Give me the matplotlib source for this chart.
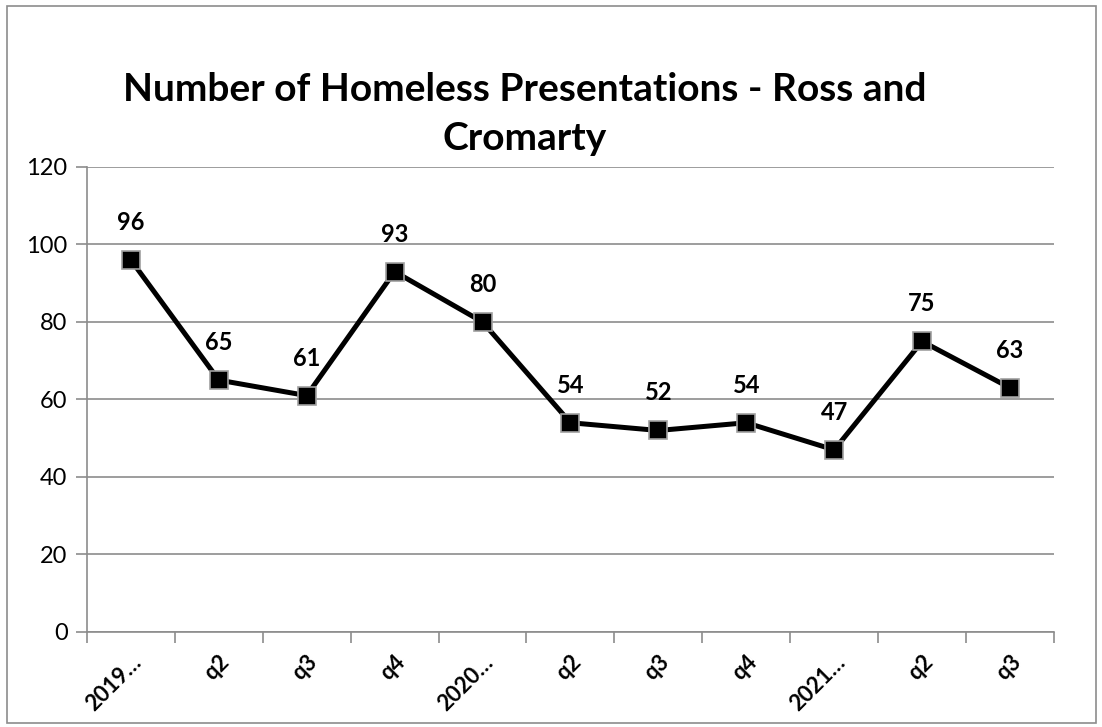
import matplotlib.pyplot as plt
from matplotlib.patches import Rectangle

categories = ["2019…", "q2", "q3", "q4", "2020…", "q2", "q3", "q4", "2021…", "q2", "q3"]
presentations = [96, 65, 61, 93, 80, 54, 52, 54, 47, 75, 63]
y_ticks = [0, 20, 40, 60, 80, 100, 120]

plt.rcParams["font.family"] = ["Lato", "DejaVu Sans"]

fig = plt.figure(figsize=(11.02, 7.27), dpi=100)
fig.patches.append(Rectangle((0.006, 0.006), 0.989, 0.986, transform=fig.transFigure,
                             fill=False, edgecolor="#8c8c8c", linewidth=1.2))
ax = fig.add_axes([0.0789, 0.1307, 0.8775, 0.6396])

x = list(range(len(categories)))
ax.plot(x, presentations, color="black", linewidth=3.6, marker="s", markersize=13,
        markerfacecolor="black", markeredgecolor="#a0a0a0", markeredgewidth=1.2, zorder=3)

for xi, v in zip(x, presentations):
    ax.annotate(str(v), (xi, v), xytext=(0, 27), textcoords="offset points",
                ha="center", va="center", fontsize=17, fontweight="bold")

ax.set_xlim(-0.5, len(categories) - 0.5)
ax.set_ylim(0, 120)
ax.set_yticks(y_ticks)
ax.set_yticklabels([str(t) for t in y_ticks], fontsize=17)
ax.grid(axis="y", color="#8c8c8c", linewidth=1.2)
ax.set_axisbelow(True)

ax.set_xticks(x)
ax.set_xticklabels(categories, rotation=45, ha="right", rotation_mode="anchor",
                   fontsize=16, fontweight="bold")
ax.tick_params(axis="x", length=0, pad=14)
ax.set_xticks([i - 0.5 for i in range(len(categories) + 1)], minor=True)
ax.tick_params(axis="x", which="minor", length=8, color="#8c8c8c", width=1.2)
ax.tick_params(axis="y", length=8, color="#8c8c8c", width=1.2, pad=6)

for side in ["top", "right"]:
    ax.spines[side].set_visible(False)
for side in ["left", "bottom"]:
    ax.spines[side].set_color("#8c8c8c")
    ax.spines[side].set_linewidth(1.2)

fig.text(0.476, 0.843, "Number of Homeless Presentations - Ross and\nCromarty",
         ha="center", va="center", fontsize=28, fontweight="bold", linespacing=1.5)

fig.savefig("out.png", dpi=100)
